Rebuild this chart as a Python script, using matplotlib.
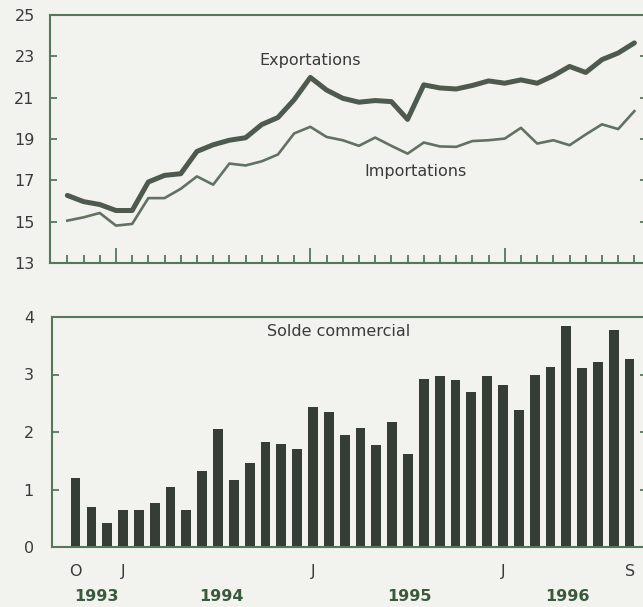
import matplotlib
matplotlib.use("Agg")
import matplotlib.pyplot as plt
from matplotlib.ticker import FixedLocator

plt.rcParams['font.family'] = ['DejaVu Sans']

# Monthly data, Oct 1993 .. Sep 1996 (36 months)
months = list(range(36))
exportations = [16.27, 15.97, 15.83, 15.54, 15.54, 16.92, 17.24, 17.32, 18.40, 18.72,
                18.94, 19.06, 19.70, 20.04, 20.90, 21.98, 21.37, 20.97, 20.78, 20.86,
                20.81, 19.95, 21.62, 21.47, 21.42, 21.59, 21.81, 21.70, 21.86, 21.70,
                22.06, 22.51, 22.22, 22.84, 23.16, 23.65]
importations = [15.05, 15.21, 15.42, 14.81, 14.89, 16.14, 16.14, 16.59, 17.19, 16.79,
                17.81, 17.72, 17.92, 18.25, 19.27, 19.59, 19.10, 18.94, 18.67, 19.07,
                18.67, 18.29, 18.83, 18.64, 18.62, 18.90, 18.94, 19.02, 19.54, 18.78,
                18.94, 18.70, 19.22, 19.71, 19.48, 20.35]
solde = [1.20, 0.69, 0.41, 0.65, 0.65, 0.76, 1.05, 0.64, 1.33, 2.06,
         1.17, 1.46, 1.82, 1.80, 1.71, 2.44, 2.34, 1.95, 2.07, 1.77,
         2.17, 1.62, 2.92, 2.97, 2.91, 2.70, 2.98, 2.81, 2.38, 2.99,
         3.13, 3.84, 3.12, 3.21, 3.78, 3.27]

month_tick_pos = [0, 3, 15, 27, 35]
month_tick_labels = ['O', 'J', 'J', 'J', 'S']
year_labels = ['1993', '1994', '1995', '1996']
year_pos = [1.3, 9.2, 21.1, 31.1]

top_yticks = [13, 15, 17, 19, 21, 23, 25]
bot_yticks = [0, 1, 2, 3, 4]

bg = '#f2f2ef'
spine_c = '#55785a'
text_c = '#3a3a3a'
line_c = '#4d5a4d'
imp_c = '#627262'
bar_c = '#363c36'
year_c = '#3b5a3d'
fs = 11.5

W, H = 643, 607
fig = plt.figure(figsize=(W / 100, H / 100), dpi=100, facecolor=bg)

def frac(l, r, t, b):
    return [l / W, 1 - b / H, (r - l) / W, (b - t) / H]

# ---- top panel ----
ax1 = fig.add_axes(frac(50, 647, 15, 263))
ax1.set_facecolor(bg)
ax1.plot(months, exportations, color=line_c, lw=3.6, solid_joinstyle='round', solid_capstyle='round')
ax1.plot(months, importations, color=imp_c, lw=1.9, solid_joinstyle='round')
ax1.set_xlim(-1.07, 35.78)
ax1.set_ylim(13, 25)
ax1.set_yticks(top_yticks)
ax1.xaxis.set_major_locator(FixedLocator([3, 15, 27]))
ax1.xaxis.set_minor_locator(FixedLocator(months))
ax1.tick_params(axis='x', which='major', direction='in', length=11, width=1.3,
                color=spine_c, labelbottom=False)
ax1.tick_params(axis='x', which='minor', direction='in', length=5.5, width=1.3,
                color=spine_c)
ax1.tick_params(axis='y', direction='in', length=5, width=1.3, color=spine_c,
                right=True, labelsize=fs, labelcolor=text_c, pad=11)
for s in ax1.spines.values():
    s.set_color(spine_c)
    s.set_linewidth(1.5)
ax1.text(15.0, 22.8, 'Exportations', ha='center', va='center', fontsize=fs, color=text_c)
ax1.text(21.5, 17.45, 'Importations', ha='center', va='center', fontsize=fs, color=text_c)

# ---- bottom panel ----
ax2 = fig.add_axes(frac(52, 647, 317, 547))
ax2.set_facecolor(bg)
ax2.bar(months, solde, width=0.62, color=bar_c, edgecolor='none')
ax2.set_xlim(-1.49, 36.1)
ax2.set_ylim(0, 4)
ax2.set_yticks(bot_yticks)
ax2.set_xticks(month_tick_pos)
ax2.set_xticklabels(month_tick_labels)
ax2.tick_params(axis='x', length=0, labelsize=fs, labelcolor=text_c, pad=12)
ax2.tick_params(axis='y', direction='in', length=5, width=1.3, color=spine_c,
                right=True, labelsize=fs, labelcolor=text_c, pad=13)
for s in ax2.spines.values():
    s.set_color(spine_c)
    s.set_linewidth(1.5)
ax2.text(16.6, 3.74, 'Solde commercial', ha='center', va='center', fontsize=fs, color=text_c)
for yl, xp in zip(year_labels, year_pos):
    ax2.text(xp, -0.86, yl, ha='center', va='center', fontsize=fs,
             fontweight='bold', color=year_c)

fig.savefig('out.png', dpi=100, facecolor=bg)
